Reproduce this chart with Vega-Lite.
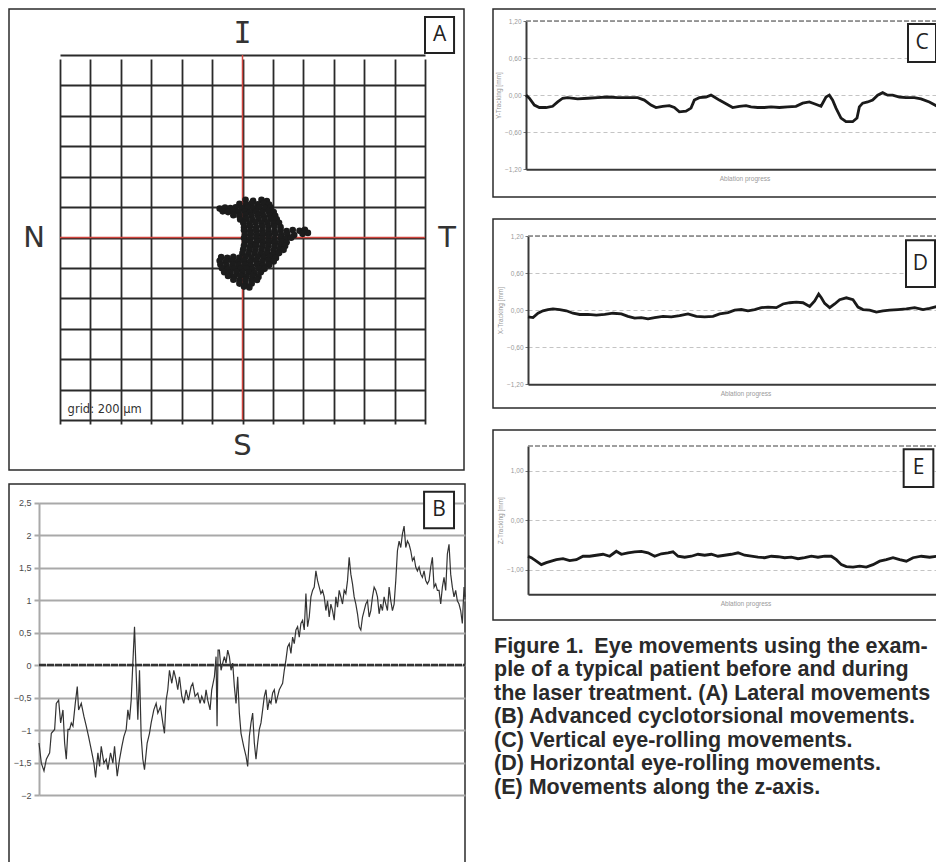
{
"$schema": "https://vega.github.io/schema/vega-lite/v6.json",
"padding": {"left": 8, "top": 8, "right": 0, "bottom": 0},
"background": "white",
"config": {
  "view": {"stroke": "#2b2b2b", "strokeWidth": 1.5},
  "font": "Open Sans",
  "axis": {"labelFont": "Liberation Sans", "titleFont": "Liberation Sans"}
},
"datasets": {
  "lateral": [
    {"x_um":20,"y_um":248},{"x_um":70,"y_um":242},{"x_um":125,"y_um":247},{"x_um":160,"y_um":240},
    {"x_um":-20,"y_um":222},{"x_um":25,"y_um":217},{"x_um":60,"y_um":224},{"x_um":100,"y_um":218},{"x_um":140,"y_um":223},{"x_um":175,"y_um":216},
    {"x_um":-150,"y_um":190},{"x_um":-115,"y_um":197},{"x_um":-80,"y_um":193},{"x_um":-45,"y_um":199},{"x_um":-5,"y_um":194},{"x_um":35,"y_um":198},{"x_um":75,"y_um":192},{"x_um":110,"y_um":197},{"x_um":150,"y_um":193},{"x_um":185,"y_um":199},
    {"x_um":-130,"y_um":172},{"x_um":-95,"y_um":167},{"x_um":-60,"y_um":173},{"x_um":-25,"y_um":168},{"x_um":15,"y_um":172},{"x_um":50,"y_um":166},{"x_um":90,"y_um":171},{"x_um":130,"y_um":167},{"x_um":170,"y_um":173},{"x_um":205,"y_um":168},
    {"x_um":-60,"y_um":147},{"x_um":-20,"y_um":142},{"x_um":20,"y_um":148},{"x_um":60,"y_um":143},{"x_um":100,"y_um":147},{"x_um":140,"y_um":141},{"x_um":180,"y_um":146},{"x_um":215,"y_um":143},
    {"x_um":-15,"y_um":118},{"x_um":25,"y_um":123},{"x_um":65,"y_um":117},{"x_um":105,"y_um":122},{"x_um":145,"y_um":118},{"x_um":185,"y_um":124},{"x_um":225,"y_um":119},
    {"x_um":5,"y_um":97},{"x_um":45,"y_um":92},{"x_um":85,"y_um":98},{"x_um":125,"y_um":93},{"x_um":165,"y_um":96},{"x_um":205,"y_um":91},{"x_um":240,"y_um":97},
    {"x_um":10,"y_um":68},{"x_um":50,"y_um":73},{"x_um":90,"y_um":67},{"x_um":130,"y_um":72},{"x_um":170,"y_um":69},{"x_um":210,"y_um":74},{"x_um":250,"y_um":68},
    {"x_um":10,"y_um":47},{"x_um":50,"y_um":42},{"x_um":90,"y_um":48},{"x_um":130,"y_um":43},{"x_um":170,"y_um":46},{"x_um":210,"y_um":41},{"x_um":250,"y_um":47},{"x_um":290,"y_um":43},{"x_um":330,"y_um":49},{"x_um":375,"y_um":44},{"x_um":410,"y_um":50},
    {"x_um":15,"y_um":18},{"x_um":55,"y_um":23},{"x_um":95,"y_um":17},{"x_um":135,"y_um":22},{"x_um":175,"y_um":19},{"x_um":215,"y_um":24},{"x_um":255,"y_um":18},{"x_um":295,"y_um":22},{"x_um":340,"y_um":16},{"x_um":395,"y_um":24},{"x_um":430,"y_um":30},
    {"x_um":10,"y_um":-3},{"x_um":50,"y_um":-8},{"x_um":90,"y_um":-2},{"x_um":130,"y_um":-7},{"x_um":170,"y_um":-4},{"x_um":210,"y_um":-9},{"x_um":250,"y_um":-3},{"x_um":285,"y_um":-7},{"x_um":320,"y_um":-2},
    {"x_um":15,"y_um":-28},{"x_um":55,"y_um":-33},{"x_um":95,"y_um":-27},{"x_um":135,"y_um":-32},{"x_um":175,"y_um":-29},{"x_um":215,"y_um":-34},{"x_um":255,"y_um":-28},{"x_um":290,"y_um":-31},
    {"x_um":10,"y_um":-53},{"x_um":50,"y_um":-58},{"x_um":90,"y_um":-52},{"x_um":130,"y_um":-57},{"x_um":170,"y_um":-54},{"x_um":210,"y_um":-59},{"x_um":250,"y_um":-53},{"x_um":280,"y_um":-56},
    {"x_um":5,"y_um":-78},{"x_um":45,"y_um":-83},{"x_um":85,"y_um":-77},{"x_um":125,"y_um":-82},{"x_um":165,"y_um":-79},{"x_um":205,"y_um":-84},{"x_um":245,"y_um":-78},{"x_um":270,"y_um":-81},
    {"x_um":0,"y_um":-103},{"x_um":40,"y_um":-108},{"x_um":80,"y_um":-102},{"x_um":120,"y_um":-107},{"x_um":160,"y_um":-104},{"x_um":200,"y_um":-109},{"x_um":240,"y_um":-103},
    {"x_um":-140,"y_um":-128},{"x_um":-100,"y_um":-133},{"x_um":-60,"y_um":-127},{"x_um":-20,"y_um":-132},{"x_um":20,"y_um":-129},{"x_um":60,"y_um":-134},{"x_um":100,"y_um":-128},{"x_um":140,"y_um":-133},{"x_um":180,"y_um":-129},{"x_um":220,"y_um":-134},
    {"x_um":-150,"y_um":-153},{"x_um":-110,"y_um":-158},{"x_um":-70,"y_um":-152},{"x_um":-30,"y_um":-157},{"x_um":10,"y_um":-154},{"x_um":50,"y_um":-159},{"x_um":90,"y_um":-153},{"x_um":130,"y_um":-158},{"x_um":170,"y_um":-154},{"x_um":205,"y_um":-157},
    {"x_um":-145,"y_um":-178},{"x_um":-105,"y_um":-183},{"x_um":-65,"y_um":-177},{"x_um":-25,"y_um":-182},{"x_um":15,"y_um":-179},{"x_um":55,"y_um":-184},{"x_um":95,"y_um":-178},{"x_um":135,"y_um":-183},{"x_um":175,"y_um":-180},
    {"x_um":-135,"y_um":-203},{"x_um":-95,"y_um":-208},{"x_um":-55,"y_um":-202},{"x_um":-15,"y_um":-207},{"x_um":25,"y_um":-204},{"x_um":65,"y_um":-209},{"x_um":105,"y_um":-203},{"x_um":145,"y_um":-206},
    {"x_um":-120,"y_um":-228},{"x_um":-80,"y_um":-233},{"x_um":-40,"y_um":-227},{"x_um":0,"y_um":-232},{"x_um":40,"y_um":-229},{"x_um":80,"y_um":-234},{"x_um":120,"y_um":-228},
    {"x_um":-95,"y_um":-253},{"x_um":-55,"y_um":-258},{"x_um":-15,"y_um":-252},{"x_um":25,"y_um":-257},{"x_um":65,"y_um":-254},{"x_um":105,"y_um":-259},
    {"x_um":-60,"y_um":-278},{"x_um":-20,"y_um":-283},{"x_um":20,"y_um":-277},{"x_um":60,"y_um":-282},{"x_um":95,"y_um":-279},
    {"x_um":-20,"y_um":-303},{"x_um":20,"y_um":-308},{"x_um":60,"y_um":-302},
    {"x_um":10,"y_um":-323},{"x_um":45,"y_um":-328}
  ],
  "cyclo": [
    {"t":0,"v":-1.20},{"t":7,"v":-1.51},{"t":15,"v":-1.63},{"t":22,"v":-1.45},{"t":32,"v":-1.35},{"t":37,"v":-1.05},{"t":47,"v":-0.99},{"t":52,"v":-0.59},{"t":59,"v":-0.54},{"t":65,"v":-0.89},
    {"t":72,"v":-0.69},{"t":77,"v":-1.20},{"t":82,"v":-1.45},{"t":87,"v":-0.99},{"t":92,"v":-0.99},{"t":97,"v":-0.89},{"t":102,"v":-0.94},{"t":109,"v":-0.59},{"t":115,"v":-0.33},{"t":119,"v":-0.69},
    {"t":127,"v":-0.59},{"t":135,"v":-0.79},{"t":142,"v":-0.94},{"t":149,"v":-1.10},{"t":157,"v":-1.30},{"t":165,"v":-1.51},{"t":170,"v":-1.73},{"t":177,"v":-1.35},{"t":182,"v":-1.56},{"t":187,"v":-1.25},
    {"t":195,"v":-1.51},{"t":202,"v":-1.45},{"t":207,"v":-1.61},{"t":215,"v":-1.35},{"t":222,"v":-1.51},{"t":227,"v":-1.25},{"t":235,"v":-1.71},{"t":242,"v":-1.45},{"t":249,"v":-1.25},{"t":255,"v":-1.10},
    {"t":262,"v":-0.99},{"t":267,"v":-0.69},{"t":272,"v":-0.84},{"t":277,"v":-0.54},{"t":282,"v":0.03},{"t":287,"v":0.59},{"t":292,"v":-0.13},{"t":297,"v":-0.84},{"t":302,"v":-0.08},{"t":307,"v":-1.10},
    {"t":312,"v":-1.45},{"t":317,"v":-1.61},{"t":325,"v":-1.20},{"t":332,"v":-1.05},{"t":337,"v":-0.89},{"t":345,"v":-0.69},{"t":352,"v":-0.59},{"t":357,"v":-0.74},{"t":365,"v":-0.64},{"t":372,"v":-0.89},
    {"t":377,"v":-1.05},{"t":382,"v":-0.54},{"t":387,"v":-0.38},{"t":392,"v":-0.08},{"t":399,"v":-0.28},{"t":405,"v":-0.08},{"t":412,"v":-0.23},{"t":417,"v":-0.38},{"t":422,"v":-0.18},{"t":429,"v":-0.48},
    {"t":435,"v":-0.59},{"t":442,"v":-0.38},{"t":449,"v":-0.54},{"t":457,"v":-0.33},{"t":462,"v":-0.28},{"t":469,"v":-0.48},{"t":477,"v":-0.43},{"t":484,"v":-0.59},{"t":489,"v":-0.48},{"t":497,"v":-0.59},
    {"t":502,"v":-0.38},{"t":507,"v":-0.54},{"t":514,"v":-0.69},{"t":519,"v":-0.38},{"t":527,"v":-0.18},{"t":532,"v":0.13},{"t":535,"v":-0.94},{"t":538,"v":0.23},{"t":542,"v":0.23},{"t":547,"v":-0.08},
    {"t":552,"v":0.03},{"t":557,"v":0.13},{"t":562,"v":0.03},{"t":567,"v":0.23},{"t":572,"v":0.13},{"t":577,"v":-0.08},{"t":582,"v":0.03},{"t":587,"v":-0.33},{"t":592,"v":-0.59},{"t":597,"v":-0.18},
    {"t":602,"v":-0.74},{"t":607,"v":-1.05},{"t":615,"v":-1.25},{"t":622,"v":-1.40},{"t":627,"v":-1.56},{"t":632,"v":-1.10},{"t":637,"v":-0.89},{"t":642,"v":-0.74},{"t":647,"v":-1.20},{"t":652,"v":-1.45},
    {"t":657,"v":-1.20},{"t":662,"v":-0.99},{"t":667,"v":-0.89},{"t":672,"v":-0.69},{"t":677,"v":-0.48},{"t":682,"v":-0.38},{"t":687,"v":-0.69},{"t":692,"v":-0.54},{"t":697,"v":-0.59},{"t":702,"v":-0.43},
    {"t":707,"v":-0.38},{"t":712,"v":-0.59},{"t":717,"v":-0.48},{"t":722,"v":-0.38},{"t":727,"v":-0.33},{"t":732,"v":-0.28},{"t":737,"v":-0.08},{"t":742,"v":0.08},{"t":747,"v":0.28},{"t":752,"v":0.33},
    {"t":757,"v":0.18},{"t":762,"v":0.43},{"t":767,"v":0.33},{"t":772,"v":0.54},{"t":777,"v":0.59},{"t":782,"v":0.43},{"t":787,"v":0.64},{"t":792,"v":0.69},{"t":797,"v":0.54},{"t":802,"v":1.10},
    {"t":807,"v":0.59},{"t":812,"v":0.74},{"t":817,"v":1.05},{"t":822,"v":1.15},{"t":827,"v":1.20},{"t":832,"v":1.45},{"t":837,"v":1.30},{"t":842,"v":1.20},{"t":847,"v":1.10},{"t":852,"v":1.15},
    {"t":857,"v":1.05},{"t":862,"v":0.84},{"t":867,"v":0.99},{"t":872,"v":0.74},{"t":877,"v":0.94},{"t":882,"v":0.84},{"t":887,"v":0.69},{"t":892,"v":1.05},{"t":897,"v":0.89},{"t":902,"v":1.15},
    {"t":907,"v":1.05},{"t":912,"v":0.94},{"t":917,"v":1.15},{"t":922,"v":1.10},{"t":927,"v":1.30},{"t":932,"v":1.66},{"t":937,"v":1.40},{"t":942,"v":1.25},{"t":947,"v":1.05},{"t":952,"v":0.94},
    {"t":957,"v":0.79},{"t":962,"v":0.59},{"t":967,"v":0.54},{"t":972,"v":0.74},{"t":977,"v":0.84},{"t":982,"v":0.94},{"t":987,"v":0.99},{"t":992,"v":0.74},{"t":997,"v":0.84},{"t":1002,"v":1.05},
    {"t":1007,"v":1.20},{"t":1012,"v":1.15},{"t":1017,"v":1.05},{"t":1022,"v":0.79},{"t":1027,"v":0.94},{"t":1032,"v":0.84},{"t":1037,"v":1.05},{"t":1042,"v":0.94},{"t":1047,"v":0.84},{"t":1052,"v":1.20},
    {"t":1057,"v":0.99},{"t":1062,"v":0.84},{"t":1067,"v":0.94},{"t":1072,"v":1.30},{"t":1077,"v":1.76},{"t":1082,"v":1.91},{"t":1087,"v":1.81},{"t":1092,"v":2.02},{"t":1097,"v":2.14},{"t":1102,"v":1.81},
    {"t":1107,"v":1.91},{"t":1112,"v":1.86},{"t":1117,"v":1.76},{"t":1122,"v":1.61},{"t":1127,"v":1.66},{"t":1132,"v":1.51},{"t":1137,"v":1.45},{"t":1142,"v":1.51},{"t":1147,"v":1.40},{"t":1152,"v":1.35},
    {"t":1157,"v":1.45},{"t":1162,"v":1.30},{"t":1167,"v":1.25},{"t":1172,"v":1.30},{"t":1177,"v":1.51},{"t":1182,"v":1.66},{"t":1187,"v":1.20},{"t":1192,"v":1.25},{"t":1197,"v":1.15},{"t":1202,"v":1.15},
    {"t":1207,"v":0.94},{"t":1212,"v":1.20},{"t":1217,"v":1.35},{"t":1222,"v":1.15},{"t":1227,"v":1.71},{"t":1232,"v":1.86},{"t":1237,"v":1.40},{"t":1242,"v":1.20},{"t":1247,"v":1.05},{"t":1252,"v":1.15},
    {"t":1257,"v":0.99},{"t":1262,"v":0.94},{"t":1267,"v":0.84},{"t":1272,"v":0.64},{"t":1277,"v":1.20},{"t":1280,"v":1.05}
  ],
  "ytrack": [
    {"t":0,"v":0.00},{"t":10,"v":-0.05},{"t":25,"v":-0.16},{"t":40,"v":-0.20},{"t":60,"v":-0.20},{"t":80,"v":-0.18},{"t":95,"v":-0.11},{"t":110,"v":-0.05},{"t":125,"v":-0.04},{"t":155,"v":-0.06},
    {"t":185,"v":-0.05},{"t":215,"v":-0.04},{"t":245,"v":-0.03},{"t":275,"v":-0.04},{"t":305,"v":-0.04},{"t":335,"v":-0.04},{"t":355,"v":-0.08},{"t":375,"v":-0.16},{"t":390,"v":-0.20},{"t":410,"v":-0.18},
    {"t":430,"v":-0.17},{"t":445,"v":-0.20},{"t":460,"v":-0.27},{"t":480,"v":-0.26},{"t":495,"v":-0.21},{"t":505,"v":-0.08},{"t":520,"v":-0.04},{"t":540,"v":-0.03},{"t":555,"v":0.00},{"t":565,"v":-0.03},
    {"t":580,"v":-0.08},{"t":600,"v":-0.14},{"t":620,"v":-0.20},{"t":640,"v":-0.18},{"t":660,"v":-0.17},{"t":675,"v":-0.19},{"t":695,"v":-0.20},{"t":715,"v":-0.20},{"t":735,"v":-0.19},{"t":760,"v":-0.20},
    {"t":785,"v":-0.19},{"t":810,"v":-0.18},{"t":830,"v":-0.13},{"t":850,"v":-0.11},{"t":865,"v":-0.14},{"t":885,"v":-0.18},{"t":900,"v":-0.03},{"t":910,"v":0.00},{"t":920,"v":-0.08},{"t":930,"v":-0.21},
    {"t":945,"v":-0.37},{"t":960,"v":-0.43},{"t":980,"v":-0.43},{"t":993,"v":-0.37},{"t":1000,"v":-0.19},{"t":1010,"v":-0.13},{"t":1025,"v":-0.11},{"t":1040,"v":-0.08},{"t":1055,"v":0.00},{"t":1070,"v":0.04},
    {"t":1085,"v":0.00},{"t":1100,"v":0.00},{"t":1120,"v":-0.03},{"t":1140,"v":-0.04},{"t":1165,"v":-0.04},{"t":1185,"v":-0.06},{"t":1210,"v":-0.11},{"t":1233,"v":-0.18}
  ],
  "xtrack": [
    {"t":0,"v":-0.11},{"t":15,"v":-0.12},{"t":30,"v":-0.05},{"t":45,"v":-0.01},{"t":60,"v":0.01},{"t":75,"v":0.02},{"t":95,"v":0.01},{"t":115,"v":-0.01},{"t":135,"v":-0.05},{"t":155,"v":-0.07},
    {"t":180,"v":-0.07},{"t":205,"v":-0.08},{"t":230,"v":-0.07},{"t":255,"v":-0.05},{"t":280,"v":-0.06},{"t":300,"v":-0.10},{"t":320,"v":-0.13},{"t":340,"v":-0.12},{"t":360,"v":-0.14},{"t":380,"v":-0.12},
    {"t":405,"v":-0.10},{"t":430,"v":-0.11},{"t":455,"v":-0.09},{"t":480,"v":-0.06},{"t":505,"v":-0.10},{"t":530,"v":-0.11},{"t":555,"v":-0.10},{"t":575,"v":-0.06},{"t":600,"v":-0.04},{"t":620,"v":0.00},
    {"t":640,"v":0.01},{"t":660,"v":-0.01},{"t":680,"v":0.01},{"t":700,"v":0.04},{"t":720,"v":0.05},{"t":745,"v":0.04},{"t":765,"v":0.10},{"t":785,"v":0.12},{"t":805,"v":0.13},{"t":825,"v":0.12},
    {"t":845,"v":0.06},{"t":860,"v":0.15},{"t":872,"v":0.26},{"t":880,"v":0.20},{"t":890,"v":0.11},{"t":905,"v":0.04},{"t":920,"v":0.10},{"t":935,"v":0.17},{"t":955,"v":0.20},{"t":975,"v":0.17},
    {"t":990,"v":0.05},{"t":1005,"v":0.01},{"t":1025,"v":0.00},{"t":1045,"v":-0.03},{"t":1065,"v":-0.01},{"t":1085,"v":0.00},{"t":1110,"v":0.01},{"t":1135,"v":0.02},{"t":1160,"v":0.04},{"t":1185,"v":0.01},
    {"t":1205,"v":0.03},{"t":1228,"v":0.06}
  ],
  "ztrack": [
    {"t":0,"v":-0.73},{"t":10,"v":-0.76},{"t":25,"v":-0.83},{"t":40,"v":-0.90},{"t":55,"v":-0.86},{"t":70,"v":-0.83},{"t":85,"v":-0.80},{"t":105,"v":-0.78},{"t":125,"v":-0.82},{"t":145,"v":-0.80},
    {"t":165,"v":-0.73},{"t":185,"v":-0.73},{"t":205,"v":-0.71},{"t":225,"v":-0.69},{"t":245,"v":-0.73},{"t":265,"v":-0.63},{"t":280,"v":-0.69},{"t":300,"v":-0.66},{"t":320,"v":-0.64},{"t":340,"v":-0.63},
    {"t":360,"v":-0.66},{"t":380,"v":-0.73},{"t":400,"v":-0.68},{"t":420,"v":-0.66},{"t":435,"v":-0.64},{"t":450,"v":-0.73},{"t":470,"v":-0.75},{"t":490,"v":-0.73},{"t":510,"v":-0.69},{"t":530,"v":-0.71},
    {"t":550,"v":-0.69},{"t":570,"v":-0.73},{"t":590,"v":-0.71},{"t":610,"v":-0.69},{"t":630,"v":-0.66},{"t":650,"v":-0.71},{"t":670,"v":-0.73},{"t":690,"v":-0.75},{"t":710,"v":-0.76},{"t":730,"v":-0.73},
    {"t":750,"v":-0.74},{"t":770,"v":-0.76},{"t":790,"v":-0.75},{"t":810,"v":-0.78},{"t":830,"v":-0.76},{"t":850,"v":-0.73},{"t":870,"v":-0.75},{"t":890,"v":-0.73},{"t":910,"v":-0.73},{"t":925,"v":-0.80},
    {"t":940,"v":-0.90},{"t":955,"v":-0.94},{"t":975,"v":-0.95},{"t":995,"v":-0.93},{"t":1015,"v":-0.95},{"t":1035,"v":-0.90},{"t":1055,"v":-0.83},{"t":1075,"v":-0.80},{"t":1095,"v":-0.76},{"t":1115,"v":-0.80},
    {"t":1135,"v":-0.83},{"t":1155,"v":-0.76},{"t":1180,"v":-0.73},{"t":1205,"v":-0.75},{"t":1228,"v":-0.73}
  ],
  "caption": [
    {"n":1,"line":"Figure 1.\u2002Eye movements using the exam-"},
    {"n":2,"line":"ple of a typical patient before and during"},
    {"n":3,"line":"the laser treatment. (A) Lateral movements"},
    {"n":4,"line":"(B) Advanced cyclotorsional movements."},
    {"n":5,"line":"(C) Vertical eye-rolling movements."},
    {"n":6,"line":"(D) Horizontal eye-rolling movements."},
    {"n":7,"line":"(E) Movements along the z-axis."}
  ]
},
"spacing": 23,
"hconcat": [
  {
    "spacing": 14,
    "bounds": "flush",
    "vconcat": [
      {
        "width": 455, "height": 461,
        "layer": [
          {
            "data": {"values": [{"ref": "vertical"}]},
            "mark": {"type": "rule", "color": "#d2463f", "strokeWidth": 1.5},
            "encoding": {
              "x": {"datum": 0, "type": "quantitative", "scale": {"domain": [-1200, 1200], "range": [51, 416]},
                "axis": {"values": [-1200,-1000,-800,-600,-400,-200,0,200,400,600,800,1000,1200], "tickCount": 30, "grid": true, "gridColor": "#2a2a2a", "gridWidth": 1.8, "gridOpacity": 1, "labels": false, "ticks": false, "domain": false, "title": null}},
              "y": {"datum": -1200, "type": "quantitative", "scale": {"domain": [-1200, 1200], "range": [411, 46]},
                "axis": {"values": [-1200,-1000,-800,-600,-400,-200,0,200,400,600,800,1000,1200], "tickCount": 30, "grid": true, "gridColor": "#2a2a2a", "gridWidth": 1.8, "gridOpacity": 1, "labels": false, "ticks": false, "domain": false, "title": null}},
              "y2": {"datum": 1200}
            }
          },
          {
            "data": {"values": [{"ref": "horizontal"}]},
            "mark": {"type": "rule", "color": "#d2463f", "strokeWidth": 1.5},
            "encoding": {
              "y": {"datum": 0, "type": "quantitative", "scale": {"domain": [-1200, 1200], "range": [411, 46]}},
              "x": {"datum": -1200, "type": "quantitative", "scale": {"domain": [-1200, 1200], "range": [51, 416]}},
              "x2": {"datum": 1200}
            }
          },
          {
            "data": {"name": "lateral"},
            "mark": {"type": "circle", "size": 44, "opacity": 1, "color": "#1c1c1c"},
            "encoding": {
              "x": {"field": "x_um", "type": "quantitative", "scale": {"domain": [-1200, 1200], "range": [51, 416]},
                "axis": {"values": [-1200,-1000,-800,-600,-400,-200,0,200,400,600,800,1000,1200], "tickCount": 30, "grid": true, "gridColor": "#2a2a2a", "gridWidth": 1.8, "gridOpacity": 1, "labels": false, "ticks": false, "domain": false, "title": null}},
              "y": {"field": "y_um", "type": "quantitative", "scale": {"domain": [-1200, 1200], "range": [411, 46]},
                "axis": {"values": [-1200,-1000,-800,-600,-400,-200,0,200,400,600,800,1000,1200], "tickCount": 30, "grid": true, "gridColor": "#2a2a2a", "gridWidth": 1.8, "gridOpacity": 1, "labels": false, "ticks": false, "domain": false, "title": null}}
            }
          },
          {
            "data": {"values": [{"lab": "I"}]},
            "mark": {"type": "text", "font": "DejaVu Sans Mono", "fontSize": 30, "color": "#333", "align": "center", "baseline": "middle"},
            "encoding": {
              "text": {"field": "lab"},
              "x": {"datum": 0, "type": "quantitative", "scale": {"domain": [-1200, 1200], "range": [51, 416]}},
              "y": {"datum": 1338, "type": "quantitative", "scale": {"domain": [-1200, 1200], "range": [411, 46]}}
            }
          },
          {
            "data": {"values": [{"lab": "S"}]},
            "mark": {"type": "text", "font": "DejaVu Sans", "fontSize": 29, "color": "#333", "align": "center", "baseline": "middle"},
            "encoding": {
              "text": {"field": "lab"},
              "x": {"datum": 0, "type": "quantitative", "scale": {"domain": [-1200, 1200], "range": [51, 416]}},
              "y": {"datum": -1371, "type": "quantitative", "scale": {"domain": [-1200, 1200], "range": [411, 46]}}
            }
          },
          {
            "data": {"values": [{"lab": "N"}]},
            "mark": {"type": "text", "font": "DejaVu Sans", "fontSize": 29, "color": "#333", "align": "center", "baseline": "middle"},
            "encoding": {
              "text": {"field": "lab"},
              "x": {"datum": -1371, "type": "quantitative", "scale": {"domain": [-1200, 1200], "range": [51, 416]}},
              "y": {"datum": 0, "type": "quantitative", "scale": {"domain": [-1200, 1200], "range": [411, 46]}}
            }
          },
          {
            "data": {"values": [{"lab": "T"}]},
            "mark": {"type": "text", "font": "DejaVu Sans", "fontSize": 29, "color": "#333", "align": "center", "baseline": "middle"},
            "encoding": {
              "text": {"field": "lab"},
              "x": {"datum": 1345, "type": "quantitative", "scale": {"domain": [-1200, 1200], "range": [51, 416]}},
              "y": {"datum": 0, "type": "quantitative", "scale": {"domain": [-1200, 1200], "range": [411, 46]}}
            }
          },
          {
            "data": {"values": [{"lab": "grid: 200 µm"}]},
            "mark": {"type": "text", "font": "DejaVu Sans", "fontSize": 11.5, "color": "#333", "align": "left", "baseline": "middle"},
            "encoding": {
              "text": {"field": "lab"},
              "x": {"datum": -1150, "type": "quantitative", "scale": {"domain": [-1200, 1200], "range": [51, 416]}},
              "y": {"datum": -1134, "type": "quantitative", "scale": {"domain": [-1200, 1200], "range": [411, 46]}}
            }
          },
          {
            "data": {"values": [{"lab": "A"}]},
            "mark": {"type": "rect", "fill": "white", "stroke": "#222", "strokeWidth": 2},
            "encoding": {
              "x": {"datum": 1200, "type": "quantitative", "scale": {"domain": [-1200, 1200], "range": [51, 416]}},
              "x2": {"datum": 1391},
              "y": {"datum": 1213, "type": "quantitative", "scale": {"domain": [-1200, 1200], "range": [411, 46]}},
              "y2": {"datum": 1450}
            }
          },
          {
            "data": {"values": [{"lab": "A"}]},
            "mark": {"type": "text", "font": "Open Sans", "fontSize": 21, "fontWeight": 500, "color": "#222", "align": "center", "baseline": "middle"},
            "encoding": {
              "text": {"field": "lab"},
              "x": {"datum": 1296, "type": "quantitative", "scale": {"domain": [-1200, 1200], "range": [51, 416]}},
              "y": {"datum": 1331, "type": "quantitative", "scale": {"domain": [-1200, 1200], "range": [411, 46]}}
            }
          }
        ]
      },
      {
        "width": 456, "height": 400,
        "layer": [
          {
            "data": {"name": "cyclo"},
            "mark": {"type": "line", "color": "#333", "strokeWidth": 1.2},
            "encoding": {
              "x": {"field": "t", "type": "quantitative", "scale": {"domain": [0, 1280], "range": [30, 456]}, "axis": null},
              "y": {"field": "v", "type": "quantitative", "scale": {"domain": [-2, 2.5], "range": [311, 18.7]},
                "axis": {"values": [-2,-1.5,-1,-0.5,0,0.5,1,1.5,2,2.5], "tickCount": 20, "grid": true, "gridColor": "#a9a9a9", "gridWidth": 2, "gridOpacity": 1, "domainColor": "#a9a9a9", "domainWidth": 2, "tickColor": "#a9a9a9", "tickSize": 5, "tickWidth": 2, "offset": -30, "labelFontSize": 9, "labelColor": "#4a4a4a", "labelPadding": 3, "labelExpr": "replace(format(datum.value, ''), '.', ',')", "title": null}}
            }
          },
          {
            "data": {"values": [{"ref": "zero"}]},
            "mark": {"type": "rule", "color": "#333", "strokeWidth": 2.5, "strokeDash": [7, 1]},
            "encoding": {
              "y": {"datum": 0, "type": "quantitative", "scale": {"domain": [-2, 2.5], "range": [311, 18.7]}},
              "x": {"datum": 0, "type": "quantitative", "scale": {"domain": [0, 1280], "range": [30, 456]}},
              "x2": {"datum": 1280}
            }
          },
          {
            "data": {"values": [{"lab": "B"}]},
            "mark": {"type": "rect", "fill": "white", "stroke": "#222", "strokeWidth": 2},
            "encoding": {
              "x": {"datum": 1157, "type": "quantitative", "scale": {"domain": [0, 1280], "range": [30, 456]}},
              "x2": {"datum": 1247},
              "y": {"datum": 2.106, "type": "quantitative", "scale": {"domain": [-2, 2.5], "range": [311, 18.7]}},
              "y2": {"datum": 2.669}
            }
          },
          {
            "data": {"values": [{"lab": "B"}]},
            "mark": {"type": "text", "font": "Open Sans", "fontSize": 21, "fontWeight": 500, "color": "#222", "align": "center", "baseline": "middle"},
            "encoding": {
              "text": {"field": "lab"},
              "x": {"datum": 1202, "type": "quantitative", "scale": {"domain": [0, 1280], "range": [30, 456]}},
              "y": {"datum": 2.39, "type": "quantitative", "scale": {"domain": [-2, 2.5], "range": [311, 18.7]}}
            }
          }
        ]
      }
    ]
  },
  {
    "spacing": 22,
    "bounds": "flush",
    "vconcat": [
      {
        "width": 470, "height": 188,
        "layer": [
          {
            "data": {"values": [{"ref": "top"}]},
            "mark": {"type": "rule", "color": "#808080", "strokeWidth": 1.4, "strokeDash": [5, 2]},
            "encoding": {
              "y": {"datum": 1.2, "type": "quantitative", "scale": {"domain": [-1.2, 1.2], "range": [160.3, 12]}},
              "x": {"datum": 0, "type": "quantitative", "scale": {"domain": [0, 1311], "range": [33, 470]}},
              "x2": {"datum": 1311}
            }
          },
          {
            "data": {"name": "ytrack"},
            "mark": {"type": "line", "color": "#1a1a1a", "strokeWidth": 2.8},
            "encoding": {
              "x": {"field": "t", "type": "quantitative", "scale": {"domain": [0, 1311], "range": [33, 470]},
                "axis": {"orient": "bottom", "offset": -27.7, "labels": false, "ticks": false, "grid": false, "domainColor": "#3a3a3a", "domainWidth": 2, "title": "Ablation progress", "titleFontSize": 6.5, "titleColor": "#9a9a9a", "titleFontWeight": "normal", "titlePadding": 6}},
              "y": {"field": "v", "type": "quantitative", "scale": {"domain": [-1.2, 1.2], "range": [160.3, 12]},
                "axis": {"values": [-1.2,-0.6,0,0.6,1.2], "grid": true, "gridColor": "#c4c4c4", "gridDash": [4, 3], "gridWidth": 1.2, "gridOpacity": 1, "domainColor": "#3a3a3a", "domainWidth": 2, "tickColor": "#777", "tickSize": 3, "offset": -33, "labelFontSize": 6.5, "labelColor": "#9a9a9a", "labelPadding": 2, "labelExpr": "replace(format(datum.value, '.2f'), '.', ',')", "title": "Y-Tracking [mm]", "titleFontSize": 6.5, "titleColor": "#9a9a9a", "titleFontWeight": "normal", "titlePadding": 3}}
            }
          },
          {
            "data": {"values": [{"lab": "C"}]},
            "mark": {"type": "rect", "fill": "white", "stroke": "#222", "strokeWidth": 2},
            "encoding": {
              "x": {"datum": 1146, "type": "quantitative", "scale": {"domain": [0, 1311], "range": [33, 470]}},
              "x2": {"datum": 1230},
              "y": {"datum": 0.536, "type": "quantitative", "scale": {"domain": [-1.2, 1.2], "range": [160.3, 12]}},
              "y2": {"datum": 1.151}
            }
          },
          {
            "data": {"values": [{"lab": "C"}]},
            "mark": {"type": "text", "font": "Open Sans", "fontSize": 21, "fontWeight": 500, "color": "#222", "align": "center", "baseline": "middle"},
            "encoding": {
              "text": {"field": "lab"},
              "x": {"datum": 1188, "type": "quantitative", "scale": {"domain": [0, 1311], "range": [33, 470]}},
              "y": {"datum": 0.84, "type": "quantitative", "scale": {"domain": [-1.2, 1.2], "range": [160.3, 12]}}
            }
          }
        ]
      },
      {
        "width": 470, "height": 189,
        "layer": [
          {
            "data": {"values": [{"ref": "top"}]},
            "mark": {"type": "rule", "color": "#808080", "strokeWidth": 1.4, "strokeDash": [5, 2]},
            "encoding": {
              "y": {"datum": 1.2, "type": "quantitative", "scale": {"domain": [-1.2, 1.2], "range": [165.3, 17]}},
              "x": {"datum": 0, "type": "quantitative", "scale": {"domain": [0, 1305], "range": [35, 470]}},
              "x2": {"datum": 1305}
            }
          },
          {
            "data": {"name": "xtrack"},
            "mark": {"type": "line", "color": "#1a1a1a", "strokeWidth": 2.8},
            "encoding": {
              "x": {"field": "t", "type": "quantitative", "scale": {"domain": [0, 1305], "range": [35, 470]},
                "axis": {"orient": "bottom", "offset": -23.7, "labels": false, "ticks": false, "grid": false, "domainColor": "#3a3a3a", "domainWidth": 2, "title": "Ablation progress", "titleFontSize": 6.5, "titleColor": "#9a9a9a", "titleFontWeight": "normal", "titlePadding": 6}},
              "y": {"field": "v", "type": "quantitative", "scale": {"domain": [-1.2, 1.2], "range": [165.3, 17]},
                "axis": {"values": [-1.2,-0.6,0,0.6,1.2], "grid": true, "gridColor": "#c4c4c4", "gridDash": [4, 3], "gridWidth": 1.2, "gridOpacity": 1, "domainColor": "#3a3a3a", "domainWidth": 2, "tickColor": "#777", "tickSize": 3, "offset": -35, "labelFontSize": 6.5, "labelColor": "#9a9a9a", "labelPadding": 2, "labelExpr": "replace(format(datum.value, '.2f'), '.', ',')", "title": "X-Tracking [mm]", "titleFontSize": 6.5, "titleColor": "#9a9a9a", "titleFontWeight": "normal", "titlePadding": 3}}
            }
          },
          {
            "data": {"values": [{"lab": "D"}]},
            "mark": {"type": "rect", "fill": "white", "stroke": "#222", "strokeWidth": 2},
            "encoding": {
              "x": {"datum": 1134, "type": "quantitative", "scale": {"domain": [0, 1305], "range": [35, 470]}},
              "x2": {"datum": 1221},
              "y": {"datum": 0.375, "type": "quantitative", "scale": {"domain": [-1.2, 1.2], "range": [165.3, 17]}},
              "y2": {"datum": 1.13}
            }
          },
          {
            "data": {"values": [{"lab": "D"}]},
            "mark": {"type": "text", "font": "Open Sans", "fontSize": 21, "fontWeight": 500, "color": "#222", "align": "center", "baseline": "middle"},
            "encoding": {
              "text": {"field": "lab"},
              "x": {"datum": 1177, "type": "quantitative", "scale": {"domain": [0, 1305], "range": [35, 470]}},
              "y": {"datum": 0.75, "type": "quantitative", "scale": {"domain": [-1.2, 1.2], "range": [165.3, 17]}}
            }
          }
        ]
      },
      {
        "width": 470, "height": 190,
        "layer": [
          {
            "data": {"values": [{"ref": "top"}]},
            "mark": {"type": "rule", "color": "#808080", "strokeWidth": 1.4, "strokeDash": [5, 2]},
            "encoding": {
              "y": {"datum": 1.5, "type": "quantitative", "scale": {"domain": [-1.5, 1.5], "range": [164.3, 16]}},
              "x": {"datum": 0, "type": "quantitative", "scale": {"domain": [0, 1305], "range": [35, 470]}},
              "x2": {"datum": 1305}
            }
          },
          {
            "data": {"name": "ztrack"},
            "mark": {"type": "line", "color": "#1a1a1a", "strokeWidth": 2.8},
            "encoding": {
              "x": {"field": "t", "type": "quantitative", "scale": {"domain": [0, 1305], "range": [35, 470]},
                "axis": {"orient": "bottom", "offset": -25.7, "labels": false, "ticks": false, "grid": false, "domainColor": "#3a3a3a", "domainWidth": 2, "title": "Ablation progress", "titleFontSize": 6.5, "titleColor": "#9a9a9a", "titleFontWeight": "normal", "titlePadding": 6}},
              "y": {"field": "v", "type": "quantitative", "scale": {"domain": [-1.5, 1.5], "range": [164.3, 16]},
                "axis": {"values": [-1,-0.5,0,0.5,1,1.5], "grid": true, "gridColor": "#c4c4c4", "gridDash": [4, 3], "gridWidth": 1.2, "gridOpacity": 1, "domainColor": "#3a3a3a", "domainWidth": 2, "tickColor": "#777", "tickSize": 3, "offset": -35, "labelFontSize": 6.5, "labelColor": "#9a9a9a", "labelPadding": 2, "labelExpr": "replace(format(datum.value, '.2f'), '.', ',')", "title": "Z-Tracking [mm]", "titleFontSize": 6.5, "titleColor": "#9a9a9a", "titleFontWeight": "normal", "titlePadding": 3}}
            }
          },
          {
            "data": {"values": [{"lab": "E"}]},
            "mark": {"type": "rect", "fill": "white", "stroke": "#222", "strokeWidth": 2},
            "encoding": {
              "x": {"datum": 1127, "type": "quantitative", "scale": {"domain": [0, 1305], "range": [35, 470]}},
              "x2": {"datum": 1216},
              "y": {"datum": 0.671, "type": "quantitative", "scale": {"domain": [-1.5, 1.5], "range": [164.3, 16]}},
              "y2": {"datum": 1.433}
            }
          },
          {
            "data": {"values": [{"lab": "E"}]},
            "mark": {"type": "text", "font": "Open Sans", "fontSize": 21, "fontWeight": 500, "color": "#222", "align": "center", "baseline": "middle"},
            "encoding": {
              "text": {"field": "lab"},
              "x": {"datum": 1172, "type": "quantitative", "scale": {"domain": [0, 1305], "range": [35, 470]}},
              "y": {"datum": 1.05, "type": "quantitative", "scale": {"domain": [-1.5, 1.5], "range": [164.3, 16]}}
            }
          }
        ]
      },
      {
        "width": 444, "height": 160,
        "view": {"stroke": null},
        "data": {"name": "caption"},
        "mark": {"type": "text", "font": "Liberation Sans", "fontSize": 21.5, "fontWeight": "bold", "color": "#2a2a2a", "align": "left", "baseline": "alphabetic"},
        "encoding": {
          "text": {"field": "line"},
          "x": {"datum": 0, "type": "quantitative", "scale": {"domain": [0, 1], "range": [1, 444]}, "axis": null},
          "y": {"field": "n", "type": "quantitative", "scale": {"domain": [1, 7], "range": [10.7, 151.7]}, "axis": null}
        }
      }
    ]
  }
]
}
